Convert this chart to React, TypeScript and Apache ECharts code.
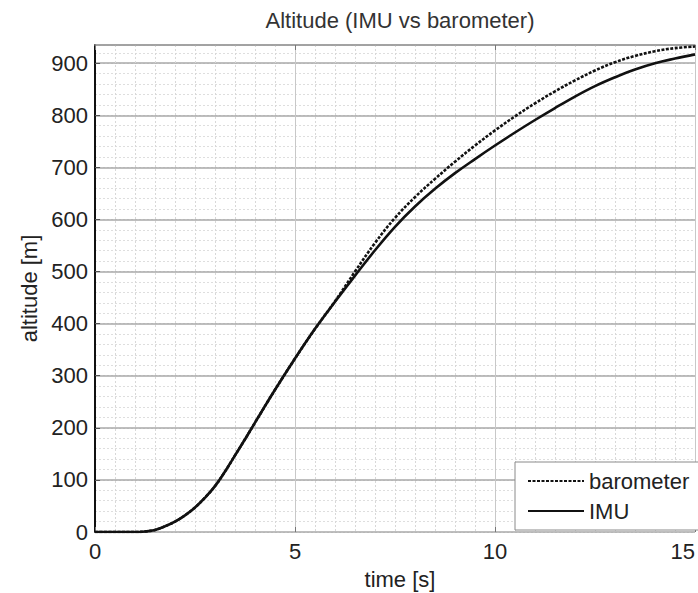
import React, { useEffect, useRef } from "react";
import * as echarts from "echarts";

const timeS = [0, 0.5, 1.0, 1.25, 1.5, 1.75, 2.0, 2.25, 2.5, 2.75, 3.0, 3.25, 3.5, 3.75, 4.0, 4.5, 5.0, 5.5, 6.0, 6.5, 7.0, 7.5, 8.0, 8.5, 9.0, 9.5, 10.0, 10.5, 11.0, 11.5, 12.0, 12.5, 13.0, 13.5, 14.0, 14.5, 15.0];
const barometer = [0, 0, 0, 1, 4, 11, 20, 32, 47, 66, 88, 116, 147, 178, 210, 273, 333, 390, 443, 500, 555, 603, 643, 678, 711, 742, 771, 798, 823, 846, 867, 886, 902, 914, 923, 929, 932];
const imu = [0, 0, 0, 1, 4, 11, 20, 32, 47, 66, 88, 116, 147, 178, 210, 273, 333, 390, 442, 492, 541, 586, 625, 659, 689, 716, 742, 767, 791, 814, 836, 856, 873, 888, 900, 909, 917];
const seriesNames = ["barometer", "IMU"];
const titleText = "Altitude (IMU vs barometer)";
const xName = "time [s]";
const yName = "altitude [m]";

const FONT = "'Liberation Sans', Arial, sans-serif";

export default function App() {
  const ref = useRef<HTMLDivElement>(null);
  useEffect(() => {
    if (!ref.current) return;
    const chart = echarts.init(ref.current, undefined, { renderer: "svg" });
    const baroData = timeS.map((t, i) => [t, barometer[i]]);
    const imuData = timeS.map((t, i) => [t, imu[i]]);
    chart.setOption({
      animation: false,
      backgroundColor: "#ffffff",
      textStyle: { fontFamily: FONT },
      title: {
        text: titleText,
        left: 400,
        top: 9,
        padding: 0,
        textAlign: "center",
        textStyle: { fontSize: 22, fontWeight: "normal", color: "#333", fontFamily: FONT },
      },
      grid: { left: 95, right: 3, top: 45, bottom: 61, containLabel: false, outerBoundsMode: "none" },
      legend: {
        orient: "vertical",
        left: 515,
        top: 462,
        padding: [8, 12, 8, 12],
        itemWidth: 56,
        itemHeight: 14,
        itemGap: 8,
        borderColor: "#8a8a8a",
        borderWidth: 1,
        borderRadius: 0,
        backgroundColor: "#ffffff",
        z: 10,
        itemStyle: { opacity: 0 },
        textStyle: { fontSize: 22, color: "#222", fontFamily: FONT },
        data: seriesNames,
      },
      xAxis: [
        {
          type: "value",
          min: 0,
          max: 15,
          interval: 5,
          position: "bottom",
          name: xName,
          nameLocation: "middle",
          nameGap: 36,
          nameTextStyle: { fontSize: 22, color: "#222", fontFamily: FONT, padding: [0, 0, 0, 10] },
          axisLine: { show: false },
          axisTick: { show: true, inside: true, length: 5, lineStyle: { color: "#777" } },
          axisLabel: { fontSize: 22, color: "#222", margin: 8, alignMaxLabel: "right", hideOverlap: false, fontFamily: FONT },
          splitLine: { show: true, lineStyle: { color: "#c8c8c8", width: 1 } },
          minorTick: { show: false, splitNumber: 10 },
          minorSplitLine: { show: true, lineStyle: { color: "#d8d8d8", type: [2, 2], width: 1 } },
          z: 1,
        },
        {
          type: "value",
          min: 0,
          max: 15,
          interval: 5,
          position: "top",
          axisLine: { show: true, onZero: false, lineStyle: { color: "#9a9a9a", width: 1.5 } },
          axisTick: { show: true, inside: true, length: 5, lineStyle: { color: "#777" } },
          axisLabel: { show: false },
          splitLine: { show: false },
          z: 1,
        },
      ],
      yAxis: [
        {
          type: "value",
          min: 0,
          max: 935,
          interval: 100,
          name: yName,
          nameLocation: "middle",
          nameGap: 52,
          nameTextStyle: { fontSize: 22, color: "#222", fontFamily: FONT },
          axisLine: { show: true, onZero: false, lineStyle: { color: "#111", width: 2 } },
          axisTick: { show: true, inside: true, length: 5, lineStyle: { color: "#555" } },
          axisLabel: { fontSize: 22, color: "#222", margin: 7, showMaxLabel: false, fontFamily: FONT },
          splitLine: { show: true, lineStyle: { color: "#a8a8a8", width: 1.5 } },
          z: 1,
        },
        {
          type: "value",
          min: 0,
          max: 935,
          interval: 20,
          axisLine: { show: false },
          axisTick: { show: false },
          axisLabel: { show: false },
          splitLine: { show: true, lineStyle: { color: "#dedede", type: [2, 2], width: 1 } },
          z: 0,
        },
      ],
      series: [
        {
          name: seriesNames[0],
          type: "line",
          data: baroData,
          symbol: "none",
          smooth: 0.4,
          lineStyle: { color: "#111", width: 2.6, type: [3, 1.5] },
          itemStyle: { color: "#111" },
          z: 5,
        },
        {
          name: seriesNames[1],
          type: "line",
          data: imuData,
          symbol: "none",
          smooth: 0.4,
          lineStyle: { color: "#111", width: 2.6, type: "solid" },
          itemStyle: { color: "#111" },
          z: 5,
        },
      ],
    });
    return () => chart.dispose();
  }, []);
  return (
    <div
      ref={ref}
      style={{ position: "fixed", left: 0, top: 0, width: 698, height: 593 }}
    />
  );
}
